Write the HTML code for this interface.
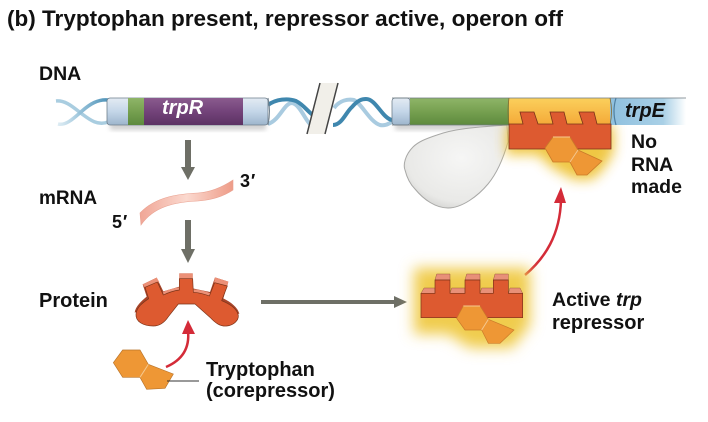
<!DOCTYPE html>
<html><head><meta charset="utf-8"><style>
html,body{margin:0;padding:0;background:#fff;width:708px;height:422px;overflow:hidden}
svg{display:block}
text{font-family:"Liberation Sans",sans-serif;font-weight:bold;fill:#111}
</style></head><body>
<svg width="708" height="422" viewBox="0 0 708 422" xmlns="http://www.w3.org/2000/svg">
<defs>
<linearGradient id="cyl" x1="0" y1="0" x2="0" y2="1"><stop offset="0" stop-color="#e3ebf3"/><stop offset=".5" stop-color="#c4d6e8"/><stop offset="1" stop-color="#9db5cc"/></linearGradient>
<linearGradient id="grn" x1="0" y1="0" x2="0" y2="1"><stop offset="0" stop-color="#8fb568"/><stop offset=".5" stop-color="#76a050"/><stop offset="1" stop-color="#5d8a3e"/></linearGradient>
<linearGradient id="pur" x1="0" y1="0" x2="0" y2="1"><stop offset="0" stop-color="#8a5b8e"/><stop offset=".5" stop-color="#73437a"/><stop offset="1" stop-color="#5c3263"/></linearGradient>
<linearGradient id="org" x1="0" y1="0" x2="0" y2="1"><stop offset="0" stop-color="#fbd05c"/><stop offset="1" stop-color="#f4a938"/></linearGradient>
<linearGradient id="trpe" x1="0" y1="0" x2="1" y2="0"><stop offset="0" stop-color="#8fc0df"/><stop offset=".7" stop-color="#a9d0e6"/><stop offset="1" stop-color="#ffffff"/></linearGradient>
<linearGradient id="fadeL" x1="0" y1="0" x2="1" y2="0"><stop offset="0" stop-color="#bcd9e8" stop-opacity=".5"/><stop offset=".5" stop-color="#8fbdd6"/><stop offset="1" stop-color="#4f93b8"/></linearGradient>
<linearGradient id="rna" x1="0" y1="0" x2="1" y2="0"><stop offset="0" stop-color="#f0a696"/><stop offset=".5" stop-color="#fbd9cf"/><stop offset="1" stop-color="#ee9c88"/></linearGradient>
<radialGradient id="blob" cx=".55" cy=".4" r=".75"><stop offset="0" stop-color="#f6f6f5"/><stop offset=".7" stop-color="#e9e9e7"/><stop offset="1" stop-color="#c2c2c0"/></radialGradient>
<filter id="b2" x="-30%" y="-30%" width="160%" height="160%"><feGaussianBlur stdDeviation="2.5"/></filter>
<filter id="b6" x="-40%" y="-40%" width="180%" height="180%"><feGaussianBlur stdDeviation="6"/></filter>
<filter id="b8" x="-40%" y="-40%" width="180%" height="180%"><feGaussianBlur stdDeviation="7"/></filter>
</defs>

<text x="7" y="26" font-size="22.5" textLength="556" lengthAdjust="spacingAndGlyphs">(b) Tryptophan present, repressor active, operon off</text>
<text x="39" y="80" font-size="19.5">DNA</text>
<text x="39" y="204" font-size="19">mRNA</text>
<text x="39" y="307" font-size="20">Protein</text>
<text x="206" y="376" font-size="20">Tryptophan</text>
<text x="206" y="397" font-size="20">(corepressor)</text>
<text x="552" y="306" font-size="19.5">Active <tspan font-style="italic">trp</tspan></text>
<text x="552" y="329" font-size="20">repressor</text>
<text x="631" y="148" font-size="19.5">No</text>
<text x="631" y="171" font-size="19.5">RNA</text>
<text x="631" y="193" font-size="19.5">made</text>
<text x="240" y="187" font-size="18">3<tspan font-style="italic">′</tspan></text>
<text x="112" y="228" font-size="18">5<tspan font-style="italic">′</tspan></text>

<!-- bar shadows -->
<rect x="110" y="122" width="156" height="8" fill="#999" opacity=".45" filter="url(#b2)"/>
<rect x="395" y="122" width="112" height="8" fill="#999" opacity=".45" filter="url(#b2)"/>

<!-- DNA helix -->
<g fill="none" stroke-linecap="butt">
<path d="M56 101 C66 100 74 108 82 114 C90 120 98 126 108 122" stroke="#a9cde0" stroke-width="3.5"/>
<path d="M58 124 C66 126 74 118 82 111 C90 104 98 99 108 100" stroke="url(#fadeL)" stroke-width="3.5"/>
<path d="M268 124 C280 120 284 103 292 103 C300 104 306 122 311 125" stroke="#a9cbe0" stroke-width="4"/>
<path d="M268 105 C276 99 288 98 296 101 C304 105 308 112 313 115" stroke="#3f87ae" stroke-width="4"/>
<path d="M334 108 C340 100 348 99 354 100 C362 104 370 122 380 125 C385 126 388 124 392 122" stroke="#a9cbe0" stroke-width="4"/>
<path d="M333 125 C342 125 346 112 352 107 C358 100 362 99 366 99 C376 99 382 118 392 120" stroke="#3f87ae" stroke-width="4"/>
</g>
<!-- break -->
<polygon points="320,83 338,83 325,134 307,134" fill="#f1efe9"/>
<path d="M320 83 L307 134 M338 83 L325 134" stroke="#444" stroke-width="1.5"/>

<!-- left gene -->
<rect x="107" y="98" width="161" height="27" rx="3" fill="url(#cyl)" stroke="#6f7f8c" stroke-width=".8"/>
<rect x="128" y="98" width="16" height="27" fill="url(#grn)"/>
<rect x="144" y="98" width="99" height="27" fill="url(#pur)"/>
<path d="M268 98 q3 13 0 27" fill="none" stroke="#6f7f8c" stroke-width="1"/>
<text x="162" y="114" font-size="20" font-style="italic" style="fill:#fff">trpR</text>

<!-- polymerase -->
<path d="M507 125 C480 127 456 128 437 135 C425 139 418 142 413 147 C405 155 403 165 405 170 C407 178 410 184 415 189 C424 200 436 208 448 208 C462 208 478 196 488 184 C498 172 504 156 508 142 Z" fill="url(#blob)" stroke="#a8a8a6" stroke-width="1"/>

<!-- glow right top -->
<path d="M506 125 H614 V152 L603 170 L592 180 L574 180 L552 168 L538 155 H506 Z" fill="#efc53a" opacity=".95" filter="url(#b6)"/>

<!-- right gene -->
<rect x="392" y="98" width="18" height="27" rx="3" fill="url(#cyl)" stroke="#6f7f8c" stroke-width=".8"/>
<rect x="410" y="98" width="99" height="27" fill="url(#grn)"/>
<rect x="509" y="98" width="101" height="27" fill="url(#org)"/>
<rect x="610" y="98" width="76" height="27" fill="url(#trpe)"/>
<path d="M392 98 H686 M392 125 H509" stroke="#6d7a80" stroke-width=".8" fill="none"/>
<path d="M509 98 q-2 13 0 27 M610 98 q3 13 0 27" stroke="#8a6a2a" stroke-width=".8" fill="none"/>
<path d="M616 98 q-4 13 0 27" stroke="#4f7fa0" stroke-width="1.2" fill="none"/>
<text x="625" y="117" font-size="20" font-style="italic">trpE</text>

<!-- bound repressor -->
<path d="M509 124 H523 L520 112 H534 L538 124 H553 L550 112 H564 L567 124 H583 L579 112 H594 L597 124 H611 V149 H509 Z" fill="#dd5a30" stroke="#7a3318" stroke-width=".8"/>
<polygon points="545,148 553,137 570,137 578,150 570,162 553,162" fill="#ee9735" stroke="#c97a2a" stroke-width=".8"/>
<polygon points="578,150 602,161 587,175 577,175 570,162" fill="#ee9735" stroke="#c97a2a" stroke-width=".8"/>
<path d="M553 137 H570" stroke="#f7c98e" stroke-width="1"/>
<path d="M578 150 L570 162" stroke="#f7c98e" stroke-width="1"/>

<!-- gray arrows -->
<g fill="#6e6f66">
<rect x="185" y="140" width="6" height="28"/><polygon points="181,167 195,167 188,180"/>
<rect x="185" y="220" width="6" height="30"/><polygon points="181,249 195,249 188,263"/>
<rect x="261" y="300" width="135" height="4"/><polygon points="394,296 394,308 407,302"/>
</g>

<!-- mRNA -->
<path d="M140 213 C156 196 180 194 198 193 C212 192 224 186 233 180 V190 C224 196 212 200 198 201 C176 202 154 206 141 225 Z" fill="url(#rna)" stroke="#e9a190" stroke-width=".6"/>

<!-- protein -->
<g transform="translate(100,170) scale(.33333)" stroke-linejoin="round">
<path d="M104 428 C106 410 125 392 140 380 L128 343 L170 323 L190 364 L238 350 V310 H278 V355 L330 366 L345 322 L385 335 L370 385 C392 396 414 412 418 432 L300 400 L200 400 Z" fill="#a8452a"/>
<path d="M128 343 L170 323 L178 336 L135 353 Z M238 310 H278 V326 H238 Z M345 322 L385 335 L382 349 L342 338 Z M189 366 C205 358 222 354 238 352 V360 C222 362 205 368 191 375 Z M280 358 C298 359 315 363 332 370 L328 378 C312 372 298 368 280 367 Z" fill="#ec9077"/>
<path d="M108 432 C110 412 128 398 146 386 L135 352 L172 336 L190 375 C205 368 222 362 238 360 V326 H278 L280 367 C298 368 312 372 328 378 L344 338 L382 348 L365 392 C385 400 412 415 415 437 C416 452 400 466 380 468 C360 470 345 458 330 442 L285 402 H235 L205 440 C195 455 180 468 160 468 C130 468 106 455 108 432 Z" fill="#dd5a30" stroke="#7a3318" stroke-width="2"/>
</g>

<!-- tryptophan -->
<g transform="translate(100,170) scale(.33333)">
<polygon points="40,578 68,540 120,540 145,583 120,622 68,622" fill="#ee9735" stroke="#b8742a" stroke-width="2"/>
<polygon points="145,583 220,612 195,655 140,658 120,622" fill="#ee9735" stroke="#b8742a" stroke-width="2"/>
<path d="M145 583 L120 622" stroke="#f7c98e" stroke-width="3"/>
</g>
<path d="M167 381 H199" stroke="#333" stroke-width="1"/>

<!-- red arrows -->
<path d="M166 367 C180 361 190 350 188 331" fill="none" stroke="#d42b38" stroke-width="2.5"/>
<polygon points="188,320 182,334 195,334" fill="#d42b38"/>
<path d="M525 275 C545 258 560 235 561 200" fill="none" stroke="#d42b38" stroke-width="2.5"/>
<polygon points="561,187 554,203 566,203" fill="#d42b38"/>

<!-- active repressor -->
<path d="M414 268 H530 V325 L512 348 H470 L448 334 H414 Z" fill="#f0cc4e" filter="url(#b8)"/>
<g transform="translate(400,250) scale(.33333)">
<path d="M110 72 H150 V90 H105 Z M200 72 H240 V90 H195 Z M285 72 H325 V90 H280 Z M72 114 H105 V130 H63 Z M155 114 H195 V130 H150 Z M245 114 H280 V130 H240 Z M330 114 H360 L368 130 H325 Z" fill="#e89078" stroke="#8a4a30" stroke-width="1.2"/>
<path d="M63 130 H105 V90 H150 V130 H195 V90 H240 V130 H280 V90 H325 V130 H368 V203 H63 Z" fill="#dd5a30" stroke="#7a3318" stroke-width="2"/>
<polygon points="170,205 190,168 240,168 265,208 245,240 195,240" fill="#ee9735" stroke="#c97a2a" stroke-width="2"/>
<polygon points="265,208 342,240 300,280 265,280 245,240" fill="#ee9735" stroke="#c97a2a" stroke-width="2"/>
<path d="M265 208 L245 240 M190 168 H240" stroke="#f7c98e" stroke-width="3"/>
</g>
</svg>
</body></html>
